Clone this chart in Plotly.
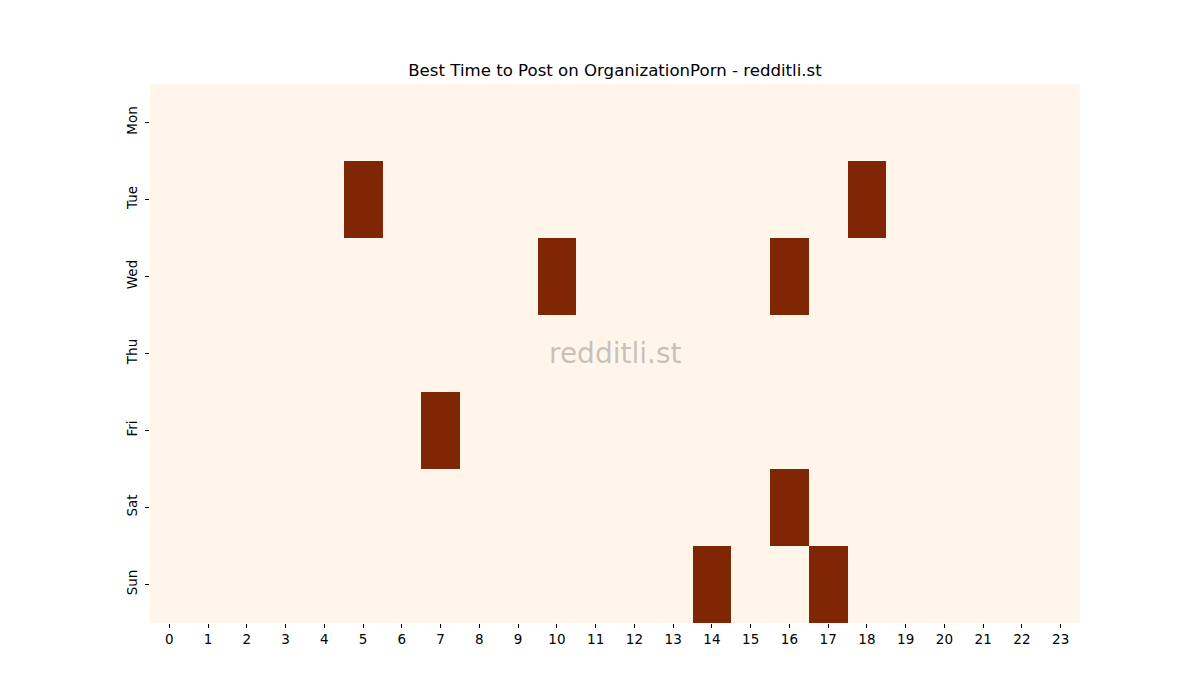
import plotly.graph_objects as go

days = ["Mon", "Tue", "Wed", "Thu", "Fri", "Sat", "Sun"]
hours = list(range(24))
# best hours per day (value 1), others 0
best_hours = {
    "Mon": [],
    "Tue": [5, 18],
    "Wed": [10, 16],
    "Thu": [],
    "Fri": [7],
    "Sat": [16],
    "Sun": [14, 17],
}
z = [[1 if h in best_hours[d] else 0 for h in hours] for d in days]

fig = go.Figure(go.Heatmap(
    z=z, x=hours, y=days,
    colorscale=[[0, "#fff5eb"], [1, "#7f2704"]],
    zmin=0, zmax=1, showscale=False, xgap=0, ygap=0, hoverinfo="skip",
))

fig.update_layout(
    width=1200, height=700,
    margin=dict(l=150, r=120, t=84, b=77),
    paper_bgcolor="white", plot_bgcolor="white",
    font=dict(family="DejaVu Sans", size=13.5, color="black"),
    title=dict(text="Best Time to Post on OrganizationPorn - redditli.st",
               xref="paper", x=0.5, xanchor="center", y=1 - 70/700, yanchor="middle",
               font=dict(size=16.6, color="black")),
    xaxis=dict(tickmode="array", tickvals=hours, ticktext=[str(h) for h in hours],
               ticks="outside", ticklen=4, tickcolor="black", showgrid=False,
               zeroline=False, showline=False, range=[-0.5, 23.5]),
    yaxis=dict(tickmode="array", tickvals=days, ticktext=days, autorange="reversed",
               ticks="outside", ticklen=4, tickcolor="black", tickangle=-90,
               ticklabelstandoff=3,
               showgrid=False, zeroline=False, showline=False),
    annotations=[dict(text="redditli.st", x=0.5, y=0.5, xref="paper", yref="paper",
                      showarrow=False, font=dict(size=28, color="rgba(128,128,128,0.45)"))],
)

fig.write_html("out.html")
